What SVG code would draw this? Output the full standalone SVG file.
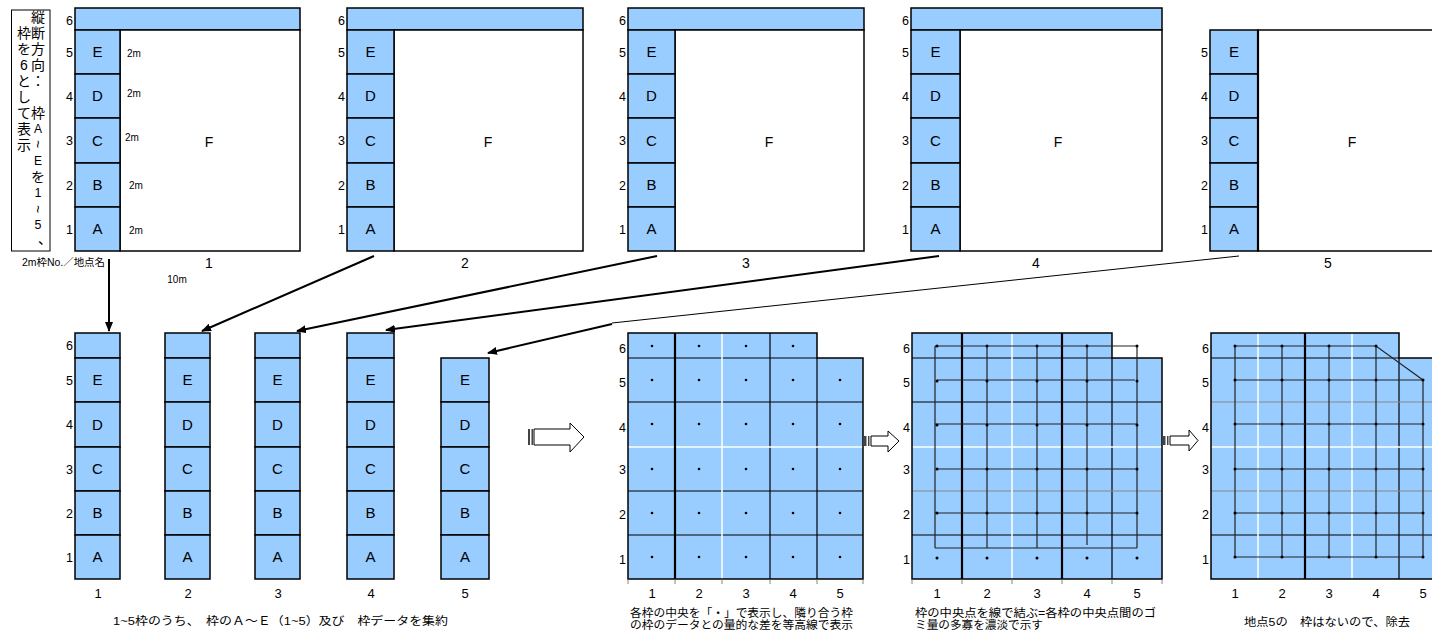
<svg xmlns="http://www.w3.org/2000/svg" width="1432" height="634" viewBox="0 0 1432 634">
<style>
.b{fill:#99CCFF;stroke:#000;stroke-width:1.5}
.w{fill:#fff;stroke:#000;stroke-width:1.5}
.bf{fill:#99CCFF;stroke:none}
.ol{fill:none;stroke:#000;stroke-width:1.5}
.s{font-family:"Liberation Sans",Arial,sans-serif;fill:#000}
.j{font-family:"Liberation Sans","Noto Sans CJK JP",sans-serif;fill:#000}
.lt{font-size:15px;text-anchor:middle}
.rl{font-size:12.5px;text-anchor:end}
.cl{font-size:13px;text-anchor:middle}
.f{font-size:14px;text-anchor:middle}
.sm{font-size:10px}
.cap{font-size:11.5px}
.vt{font-size:14px;text-anchor:middle;dominant-baseline:central}
.bk{stroke:#000;stroke-width:1.2}
.bk2{stroke:#000;stroke-width:2.2}
.wh{stroke:#fff;stroke-width:1.5}
.gr{stroke:#888;stroke-width:1.2}
.tk{stroke:#666;stroke-width:0.8}
.cn{stroke:#222;stroke-width:1.2;fill:none}
.dot{fill:#000}
.con{stroke:#000;stroke-width:2;fill:none}
.ba{fill:#fff;stroke:#000;stroke-width:1}
.bar{fill:#444}
</style>
<defs>
<marker id="ah" markerWidth="10" markerHeight="8" refX="9" refY="4" orient="auto" markerUnits="userSpaceOnUse"><path d="M0,0 L10,4 L0,8 Z" fill="#000"/></marker>
</defs>

<g id="note">
<rect x="11.5" y="10" width="38.5" height="241" fill="#fff" stroke="#000" stroke-width="1"/>
<text class="j vt"><tspan x="38" y="17">縦</tspan><tspan x="38" y="33">断</tspan><tspan x="38" y="49">方</tspan><tspan x="38" y="65">向</tspan><tspan x="38" y="81">：</tspan><tspan x="38" y="113">枠</tspan><tspan x="38" y="129" font-size="12">A</tspan></text>
<text class="j vt" font-size="12" x="38" y="144" transform="rotate(90 38 144)">~</text>
<text class="j vt"><tspan x="38" y="161" font-size="12">E</tspan><tspan x="38" y="177">を</tspan><tspan x="38" y="193" font-size="12.5">1</tspan></text>
<text class="j vt" font-size="12" x="38" y="209" transform="rotate(90 38 209)">~</text>
<text class="j vt"><tspan x="38" y="225" font-size="12.5">5</tspan><tspan x="45" y="239">、</tspan></text>
<text class="j vt"><tspan x="24" y="33">枠</tspan><tspan x="24" y="49">を</tspan><tspan x="24" y="65">6</tspan><tspan x="24" y="81">と</tspan><tspan x="24" y="97">し</tspan><tspan x="24" y="113">て</tspan><tspan x="24" y="129">表</tspan><tspan x="24" y="145">示</tspan></text>
</g>

<g id="panel1">
<rect class="b" x="75" y="8" width="225" height="22"/>
<rect class="w" x="120" y="30" width="180" height="221"/>
<rect class="b" x="75" y="30" width="45" height="44"/>
<rect class="b" x="75" y="74" width="45" height="44"/>
<rect class="b" x="75" y="118" width="45" height="45"/>
<rect class="b" x="75" y="163" width="45" height="44"/>
<rect class="b" x="75" y="207" width="45" height="44"/>
<g class="s lt"><text x="97.5" y="57.4">E</text><text x="97.5" y="101.4">D</text><text x="97.5" y="146">C</text><text x="97.5" y="190.4">B</text><text x="97.5" y="234.4">A</text></g>
<g class="s rl"><text x="73" y="24.5">6</text><text x="73" y="56.5">5</text><text x="73" y="100.5">4</text><text x="73" y="145">3</text><text x="73" y="189.5">2</text><text x="73" y="233.5">1</text></g>
<g class="s sm"><text x="127" y="56.5">2m</text><text x="127" y="96.5">2m</text><text x="125" y="140.5">2m</text><text x="129" y="188.5">2m</text><text x="129" y="233.5">2m</text></g>
<text class="s f" x="209" y="147">F</text>
<text class="s f" x="209" y="268">1</text>
<text class="s sm" x="177" y="283" text-anchor="middle">10m</text>
<text class="j sm" x="22" y="266" textLength="83" lengthAdjust="spacingAndGlyphs">2m枠No.／地点名</text>
</g>

<g id="panel2">
<rect class="b" x="347" y="8" width="236" height="22"/>
<rect class="w" x="394" y="30" width="189" height="221"/>
<rect class="b" x="347" y="30" width="47" height="44"/>
<rect class="b" x="347" y="74" width="47" height="44"/>
<rect class="b" x="347" y="118" width="47" height="45"/>
<rect class="b" x="347" y="163" width="47" height="44"/>
<rect class="b" x="347" y="207" width="47" height="44"/>
<g class="s lt"><text x="370.5" y="57.4">E</text><text x="370.5" y="101.4">D</text><text x="370.5" y="146">C</text><text x="370.5" y="190.4">B</text><text x="370.5" y="234.4">A</text></g>
<g class="s rl"><text x="345" y="24.5">6</text><text x="345" y="56.5">5</text><text x="345" y="100.5">4</text><text x="345" y="145">3</text><text x="345" y="189.5">2</text><text x="345" y="233.5">1</text></g>
<text class="s f" x="488" y="147">F</text>
<text class="s f" x="465" y="268">2</text>
</g>

<g id="panel3">
<rect class="b" x="628" y="8" width="236" height="22"/>
<rect class="w" x="675" y="30" width="189" height="221"/>
<rect class="b" x="628" y="30" width="47" height="44"/>
<rect class="b" x="628" y="74" width="47" height="44"/>
<rect class="b" x="628" y="118" width="47" height="45"/>
<rect class="b" x="628" y="163" width="47" height="44"/>
<rect class="b" x="628" y="207" width="47" height="44"/>
<g class="s lt"><text x="651.5" y="57.4">E</text><text x="651.5" y="101.4">D</text><text x="651.5" y="146">C</text><text x="651.5" y="190.4">B</text><text x="651.5" y="234.4">A</text></g>
<g class="s rl"><text x="626" y="24.5">6</text><text x="626" y="56.5">5</text><text x="626" y="100.5">4</text><text x="626" y="145">3</text><text x="626" y="189.5">2</text><text x="626" y="233.5">1</text></g>
<text class="s f" x="769" y="147">F</text>
<text class="s f" x="746" y="268">3</text>
</g>

<g id="panel4">
<rect class="b" x="911" y="8" width="251" height="22"/>
<rect class="w" x="960" y="30" width="202" height="221"/>
<rect class="b" x="911" y="30" width="49" height="44"/>
<rect class="b" x="911" y="74" width="49" height="44"/>
<rect class="b" x="911" y="118" width="49" height="45"/>
<rect class="b" x="911" y="163" width="49" height="44"/>
<rect class="b" x="911" y="207" width="49" height="44"/>
<g class="s lt"><text x="935.5" y="57.4">E</text><text x="935.5" y="101.4">D</text><text x="935.5" y="146">C</text><text x="935.5" y="190.4">B</text><text x="935.5" y="234.4">A</text></g>
<g class="s rl"><text x="909" y="24.5">6</text><text x="909" y="56.5">5</text><text x="909" y="100.5">4</text><text x="909" y="145">3</text><text x="909" y="189.5">2</text><text x="909" y="233.5">1</text></g>
<text class="s f" x="1058" y="147">F</text>
<text class="s f" x="1036" y="268">4</text>
</g>

<g id="panel5">
<rect class="w" x="1258" y="30" width="190" height="221"/>
<rect class="b" x="1210" y="30" width="48" height="44"/>
<rect class="b" x="1210" y="74" width="48" height="44"/>
<rect class="b" x="1210" y="118" width="48" height="45"/>
<rect class="b" x="1210" y="163" width="48" height="44"/>
<rect class="b" x="1210" y="207" width="48" height="44"/>
<line x1="1258" y1="30" x2="1258" y2="251" stroke="#000" stroke-width="2.2"/>
<g class="s lt"><text x="1234" y="57.4">E</text><text x="1234" y="101.4">D</text><text x="1234" y="146">C</text><text x="1234" y="190.4">B</text><text x="1234" y="234.4">A</text></g>
<g class="s rl"><text x="1208" y="56.5">5</text><text x="1208" y="100.5">4</text><text x="1208" y="145">3</text><text x="1208" y="189.5">2</text><text x="1208" y="233.5">1</text></g>
<text class="s f" x="1352" y="147">F</text>
<text class="s f" x="1328" y="268">5</text>
</g>

<g id="col1">
<rect class="b" x="75" y="333" width="45" height="25"/>
<rect class="b" x="75" y="358" width="45" height="44"/>
<rect class="b" x="75" y="402" width="45" height="45"/>
<rect class="b" x="75" y="447" width="45" height="44"/>
<rect class="b" x="75" y="491" width="45" height="44"/>
<rect class="b" x="75" y="535" width="45" height="44"/>
<g class="s lt"><text x="97.5" y="385.4">E</text><text x="97.5" y="430">D</text><text x="97.5" y="474.4">C</text><text x="97.5" y="518.4">B</text><text x="97.5" y="562.4">A</text></g>
<g class="s rl"><text x="73" y="350">6</text><text x="73" y="384.5">5</text><text x="73" y="429">4</text><text x="73" y="473.5">3</text><text x="73" y="517.5">2</text><text x="73" y="561.5">1</text></g>
<text class="s cl" x="98" y="598">1</text>
</g>

<g id="col2">
<rect class="b" x="165" y="333" width="45" height="25"/>
<rect class="b" x="165" y="358" width="45" height="44"/>
<rect class="b" x="165" y="402" width="45" height="45"/>
<rect class="b" x="165" y="447" width="45" height="44"/>
<rect class="b" x="165" y="491" width="45" height="44"/>
<rect class="b" x="165" y="535" width="45" height="44"/>
<g class="s lt"><text x="187.5" y="385.4">E</text><text x="187.5" y="430">D</text><text x="187.5" y="474.4">C</text><text x="187.5" y="518.4">B</text><text x="187.5" y="562.4">A</text></g>
<text class="s cl" x="188" y="598">2</text>
</g>

<g id="col3">
<rect class="b" x="255" y="333" width="45" height="25"/>
<rect class="b" x="255" y="358" width="45" height="44"/>
<rect class="b" x="255" y="402" width="45" height="45"/>
<rect class="b" x="255" y="447" width="45" height="44"/>
<rect class="b" x="255" y="491" width="45" height="44"/>
<rect class="b" x="255" y="535" width="45" height="44"/>
<g class="s lt"><text x="277.5" y="385.4">E</text><text x="277.5" y="430">D</text><text x="277.5" y="474.4">C</text><text x="277.5" y="518.4">B</text><text x="277.5" y="562.4">A</text></g>
<text class="s cl" x="278" y="598">3</text>
</g>

<g id="col4">
<rect class="b" x="347" y="333" width="47" height="25"/>
<rect class="b" x="347" y="358" width="47" height="44"/>
<rect class="b" x="347" y="402" width="47" height="45"/>
<rect class="b" x="347" y="447" width="47" height="44"/>
<rect class="b" x="347" y="491" width="47" height="44"/>
<rect class="b" x="347" y="535" width="47" height="44"/>
<g class="s lt"><text x="370.5" y="385.4">E</text><text x="370.5" y="430">D</text><text x="370.5" y="474.4">C</text><text x="370.5" y="518.4">B</text><text x="370.5" y="562.4">A</text></g>
<text class="s cl" x="371" y="598">4</text>
</g>

<g id="col5">
<rect class="b" x="441" y="358" width="48" height="44"/>
<rect class="b" x="441" y="402" width="48" height="45"/>
<rect class="b" x="441" y="447" width="48" height="44"/>
<rect class="b" x="441" y="491" width="48" height="44"/>
<rect class="b" x="441" y="535" width="48" height="44"/>
<g class="s lt"><text x="465" y="385.4">E</text><text x="465" y="430">D</text><text x="465" y="474.4">C</text><text x="465" y="518.4">B</text><text x="465" y="562.4">A</text></g>
<text class="s cl" x="465" y="598">5</text>
</g>

<text id="caption-cols" class="j cap" x="113" y="625" textLength="335" lengthAdjust="spacingAndGlyphs">1~5枠のうち、　枠のＡ～Ｅ（1~5）及び　枠データを集約</text>

<g id="grid1">
<path class="bf" d="M628,333H817V358H863V579H628Z"/>
<g class="bk"><line x1="628" y1="358" x2="817" y2="358"/><line x1="628" y1="402" x2="863" y2="402"/><line x1="628" y1="491" x2="863" y2="491"/><line x1="628" y1="535" x2="863" y2="535"/><line x1="770" y1="333" x2="770" y2="579"/><line x1="817" y1="358" x2="817" y2="579"/></g>
<g class="wh"><line x1="628" y1="447" x2="863" y2="447"/><line x1="722" y1="333" x2="722" y2="579"/></g>
<line class="bk2" x1="675" y1="333" x2="675" y2="579"/>
<path class="ol" d="M628,333H817V358H863V579H628Z"/>
<g class="tk"><line x1="628" y1="579" x2="628" y2="584"/><line x1="675" y1="579" x2="675" y2="584"/><line x1="722" y1="579" x2="722" y2="584"/><line x1="770" y1="579" x2="770" y2="584"/><line x1="817" y1="579" x2="817" y2="584"/><line x1="863" y1="579" x2="863" y2="584"/></g>
<g class="dot">
<circle cx="652" cy="346" r="1.3"/><circle cx="699" cy="346" r="1.3"/><circle cx="746" cy="346" r="1.3"/><circle cx="793" cy="346" r="1.3"/>
<circle cx="652" cy="380" r="1.3"/><circle cx="699" cy="380" r="1.3"/><circle cx="746" cy="380" r="1.3"/><circle cx="793" cy="380" r="1.3"/><circle cx="840" cy="380" r="1.3"/>
<circle cx="652" cy="424" r="1.3"/><circle cx="699" cy="424" r="1.3"/><circle cx="746" cy="424" r="1.3"/><circle cx="793" cy="424" r="1.3"/><circle cx="840" cy="424" r="1.3"/>
<circle cx="652" cy="469" r="1.3"/><circle cx="699" cy="469" r="1.3"/><circle cx="746" cy="469" r="1.3"/><circle cx="793" cy="469" r="1.3"/><circle cx="840" cy="469" r="1.3"/>
<circle cx="652" cy="513" r="1.3"/><circle cx="699" cy="513" r="1.3"/><circle cx="746" cy="513" r="1.3"/><circle cx="793" cy="513" r="1.3"/><circle cx="840" cy="513" r="1.3"/>
<circle cx="652" cy="557" r="1.3"/><circle cx="699" cy="557" r="1.3"/><circle cx="746" cy="557" r="1.3"/><circle cx="793" cy="557" r="1.3"/><circle cx="840" cy="557" r="1.3"/>
</g>
<g class="s rl"><text x="626" y="352.5">6</text><text x="626" y="386.5">5</text><text x="626" y="431.5">4</text><text x="626" y="473.5">3</text><text x="626" y="518.5">2</text><text x="626" y="563.5">1</text></g>
<g class="s cl"><text x="652" y="598">1</text><text x="699" y="598">2</text><text x="746" y="598">3</text><text x="793" y="598">4</text><text x="840" y="598">5</text></g>
<text class="j cap" x="630" y="617" textLength="223" lengthAdjust="spacingAndGlyphs">各枠の中央を「・」で表示し、隣り合う枠</text>
<text class="j cap" x="630" y="629" textLength="223" lengthAdjust="spacingAndGlyphs">の枠のデータとの量的な差を等高線で表示</text>
</g>

<g id="grid2">
<path class="bf" d="M912,333H1112V358H1162V579H912Z"/>
<g class="bk"><line x1="912" y1="358" x2="1112" y2="358"/><line x1="912" y1="402" x2="1162" y2="402"/><line x1="912" y1="535" x2="1162" y2="535"/><line x1="1112" y1="358" x2="1112" y2="579"/></g>
<line class="gr" x1="912" y1="491" x2="1162" y2="491"/>
<g class="wh"><line x1="912" y1="447" x2="1162" y2="447"/><line x1="1012" y1="333" x2="1012" y2="579"/></g>
<g class="bk2"><line x1="962" y1="333" x2="962" y2="579"/><line x1="1062" y1="333" x2="1062" y2="579"/></g>
<path class="ol" d="M912,333H1112V358H1162V579H912Z"/>
<g class="tk"><line x1="912" y1="579" x2="912" y2="584"/><line x1="962" y1="579" x2="962" y2="584"/><line x1="1012" y1="579" x2="1012" y2="584"/><line x1="1062" y1="579" x2="1062" y2="584"/><line x1="1112" y1="579" x2="1112" y2="584"/><line x1="1162" y1="579" x2="1162" y2="584"/></g>
<g class="cn">
<path d="M935,346H1137"/><path d="M937,380H1135"/><path d="M935,424H1137"/><path d="M937,469H1137"/><path d="M935,513H1137"/><path d="M935,548H1137"/>
<path d="M935,346V548"/><path d="M987,346V548"/><path d="M1037,346V548"/><path d="M1087,346V545"/><path d="M1137,346V548"/>
</g>
<g class="dot">
<circle cx="937" cy="346" r="1.5"/><circle cx="987" cy="346" r="1.5"/><circle cx="1037" cy="346" r="1.5"/><circle cx="1087" cy="346" r="1.5"/><circle cx="1137" cy="346" r="1.5"/>
<circle cx="937" cy="381" r="1.5"/><circle cx="987" cy="381" r="1.5"/><circle cx="1037" cy="381" r="1.5"/><circle cx="1087" cy="381" r="1.5"/><circle cx="1137" cy="381" r="1.5"/>
<circle cx="937" cy="425" r="1.5"/><circle cx="987" cy="425" r="1.5"/><circle cx="1037" cy="425" r="1.5"/><circle cx="1087" cy="425" r="1.5"/><circle cx="1137" cy="425" r="1.5"/>
<circle cx="937" cy="469" r="1.5"/><circle cx="987" cy="469" r="1.5"/><circle cx="1037" cy="469" r="1.5"/><circle cx="1087" cy="469" r="1.5"/><circle cx="1137" cy="469" r="1.5"/>
<circle cx="937" cy="513" r="1.5"/><circle cx="987" cy="513" r="1.5"/><circle cx="1037" cy="513" r="1.5"/><circle cx="1087" cy="513" r="1.5"/><circle cx="1137" cy="513" r="1.5"/>
<circle cx="937" cy="558" r="1.5"/><circle cx="987" cy="558" r="1.5"/><circle cx="1037" cy="558" r="1.5"/><circle cx="1087" cy="558" r="1.5"/><circle cx="1137" cy="558" r="1.5"/>
</g>
<g class="s rl"><text x="910" y="352.5">6</text><text x="910" y="386.5">5</text><text x="910" y="431.5">4</text><text x="910" y="473.5">3</text><text x="910" y="518.5">2</text><text x="910" y="563.5">1</text></g>
<g class="s cl"><text x="937" y="598">1</text><text x="987" y="598">2</text><text x="1037" y="598">3</text><text x="1087" y="598">4</text><text x="1137" y="598">5</text></g>
<text class="j cap" x="915" y="617" textLength="241" lengthAdjust="spacingAndGlyphs">枠の中央点を線で結ぶ=各枠の中央点間のゴ</text>
<text class="j cap" x="915" y="629" textLength="128" lengthAdjust="spacingAndGlyphs">ミ量の多寡を濃淡で示す</text>
</g>

<g id="grid3">
<path class="bf" d="M1211,333H1399V358H1446V579H1211Z"/>
<g class="bk"><line x1="1211" y1="358" x2="1399" y2="358"/><line x1="1211" y1="535" x2="1446" y2="535"/><line x1="1399" y1="358" x2="1399" y2="579"/></g>
<g class="gr"><line x1="1211" y1="402" x2="1446" y2="402"/><line x1="1211" y1="491" x2="1446" y2="491"/></g>
<g class="wh"><line x1="1211" y1="447" x2="1446" y2="447"/><line x1="1258" y1="333" x2="1258" y2="579"/><line x1="1352" y1="333" x2="1352" y2="579"/></g>
<line class="bk2" x1="1305" y1="333" x2="1305" y2="579"/>
<path class="ol" d="M1211,333H1399V358H1446V579H1211Z"/>
<g class="cn">
<path d="M1235,346H1376L1423,380"/><path d="M1235,380H1423"/><path d="M1235,424H1423"/><path d="M1235,469H1423"/><path d="M1235,513H1423"/><path d="M1235,557H1423"/>
<path d="M1235,346V557"/><path d="M1282,346V557"/><path d="M1329,346V557"/><path d="M1376,346V557"/><path d="M1423,380V557"/>
</g>
<g class="dot">
<circle cx="1235" cy="346" r="1.5"/><circle cx="1282" cy="346" r="1.5"/><circle cx="1329" cy="346" r="1.5"/><circle cx="1376" cy="346" r="1.5"/>
<circle cx="1235" cy="380" r="1.5"/><circle cx="1282" cy="380" r="1.5"/><circle cx="1329" cy="380" r="1.5"/><circle cx="1376" cy="380" r="1.5"/><circle cx="1423" cy="380" r="1.5"/>
<circle cx="1235" cy="424" r="1.5"/><circle cx="1282" cy="424" r="1.5"/><circle cx="1329" cy="424" r="1.5"/><circle cx="1376" cy="424" r="1.5"/><circle cx="1423" cy="424" r="1.5"/>
<circle cx="1235" cy="469" r="1.5"/><circle cx="1282" cy="469" r="1.5"/><circle cx="1329" cy="469" r="1.5"/><circle cx="1376" cy="469" r="1.5"/><circle cx="1423" cy="469" r="1.5"/>
<circle cx="1235" cy="513" r="1.5"/><circle cx="1282" cy="513" r="1.5"/><circle cx="1329" cy="513" r="1.5"/><circle cx="1376" cy="513" r="1.5"/><circle cx="1423" cy="513" r="1.5"/>
<circle cx="1235" cy="557" r="1.5"/><circle cx="1282" cy="557" r="1.5"/><circle cx="1329" cy="557" r="1.5"/><circle cx="1376" cy="557" r="1.5"/><circle cx="1423" cy="557" r="1.5"/>
</g>
<g class="s rl"><text x="1209" y="352.5">6</text><text x="1209" y="386.5">5</text><text x="1209" y="431.5">4</text><text x="1209" y="473.5">3</text><text x="1209" y="518.5">2</text><text x="1209" y="563.5">1</text></g>
<g class="s cl"><text x="1235" y="598">1</text><text x="1282" y="598">2</text><text x="1329" y="598">3</text><text x="1376" y="598">4</text><text x="1423" y="598">5</text></g>
<text class="j cap" x="1244" y="626" textLength="166" lengthAdjust="spacingAndGlyphs">地点5の　枠はないので、除去</text>
</g>

<g id="block-arrows">
<rect class="bar" x="528" y="429" width="2" height="16"/><rect class="bar" x="531.5" y="429" width="1.5" height="16"/>
<path class="ba" d="M534,429H570V423L584,437L570,452V445H534Z"/>
<rect class="bar" x="864" y="436" width="2.5" height="10"/><rect class="bar" x="868" y="436" width="1.5" height="10"/>
<path class="ba" d="M871,436H888V431L899,441L888,452V446H871Z"/>
<rect class="bar" x="1163" y="436" width="2.5" height="9"/><rect class="bar" x="1167" y="436" width="1.5" height="9"/>
<path class="ba" d="M1170,436H1189V430L1198,440.5L1189,451V445H1170Z"/>
</g>

<g id="connectors">
<line class="con" x1="109" y1="259" x2="109" y2="331" marker-end="url(#ah)"/>
<line class="con" x1="374" y1="256" x2="202" y2="331" marker-end="url(#ah)"/>
<line class="con" x1="657" y1="256" x2="297" y2="331" marker-end="url(#ah)"/>
<line class="con" x1="939" y1="256" x2="386" y2="330" marker-end="url(#ah)"/>
<line x1="1239" y1="256" x2="612" y2="323" stroke="#000" stroke-width="1"/>
<line class="con" x1="612" y1="324" x2="488" y2="353" marker-end="url(#ah)"/>
</g>
</svg>
